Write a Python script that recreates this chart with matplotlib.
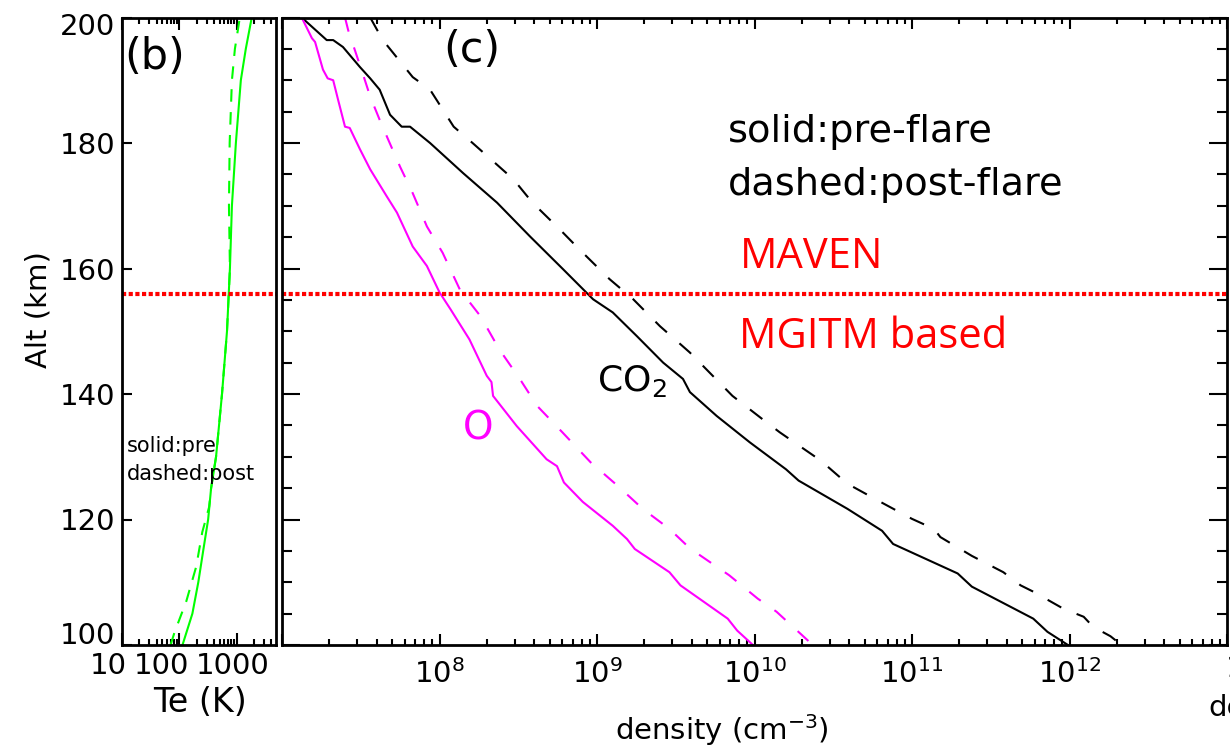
import numpy as np
import matplotlib.pyplot as plt
from matplotlib.ticker import MultipleLocator, LogLocator, NullLocator, NullFormatter
from matplotlib.transforms import ScaledTranslation

# panel (b): electron temperature (K) vs altitude (km)
te_alt_pre = [100, 105, 110, 115, 120, 125, 130, 140, 150, 160, 170, 180, 190, 195, 200]
te_pre = [113, 168, 213, 259, 316, 356, 434, 551, 673, 757, 820, 961, 1172, 1430, 1815]
te_alt_post = [100, 102, 107, 112.5, 118, 122, 125, 130, 140, 150, 160, 170, 180, 190, 195, 197, 200]
te_post = [70, 82, 132, 196, 250, 329, 356, 434, 551, 673, 757, 728, 749, 820, 924, 1000, 1125]

# panel (c): log10 density (cm^-3) vs altitude (km)
co2_alt_pre = [200, 196.4, 196.4, 195.3, 192.1, 190.3, 188.5, 184.5, 182.6, 182.6, 180, 175.2,
               170.5, 165.1, 159.9, 155.1, 153, 149.2, 145, 142.4, 140.3, 136.5, 132.3, 128,
               126.2, 121.7, 118.2, 116.1, 111.4, 109.3, 104.2, 102.1, 100]
co2_pre = [7.125, 7.284, 7.325, 7.387, 7.495, 7.56, 7.62, 7.686, 7.76, 7.813, 7.94, 8.15,
           8.365, 8.575, 8.784, 8.975, 9.10, 9.254, 9.42, 9.546, 9.59, 9.76, 9.97, 10.2,
           10.28, 10.59, 10.81, 10.88, 11.29, 11.38, 11.77, 11.86, 11.99]
co2_alt_post = [200, 196.4, 190.5, 188.5, 182.6, 180, 174.2, 170.5, 166.2, 163, 158.3, 155.1,
                150.8, 146.6, 139.7, 136, 133.9, 129.4, 127, 125.7, 122.8, 120.1, 118.5, 117.2,
                114.2, 111.6, 109.5, 108.5, 105.8, 104.5, 102.9, 101.4, 100]
co2_post = [7.56, 7.64, 7.83, 7.94, 8.09, 8.21, 8.47, 8.59, 8.765, 8.89, 9.08, 9.23,
            9.4, 9.59, 9.86, 10.05, 10.16, 10.42, 10.53, 10.59, 10.80, 11.0, 11.14, 11.18,
            11.38, 11.58, 11.69, 11.77, 11.96, 12.09, 12.15, 12.26, 12.33]
o_alt_pre = [200, 196.7, 196.1, 191.7, 190.3, 190, 186.9, 182.6, 182.4, 179, 175.8, 171.5,
             168.9, 163.5, 160.4, 156.2, 153.5, 148.7, 142.9, 141.9, 139.7, 134.9, 129.6,
             128.5, 125.9, 122.8, 119, 116.9, 115.3, 111.6, 109.5, 104.2, 102.3, 100]
o_pre = [7.125, 7.19, 7.21, 7.26, 7.29, 7.325, 7.356, 7.40, 7.43, 7.495, 7.56, 7.665,
         7.73, 7.83, 7.92, 8.0, 8.07, 8.19, 8.30, 8.33, 8.34, 8.49, 8.68,
         8.746, 8.79, 8.91, 9.10, 9.19, 9.24, 9.46, 9.53, 9.83, 9.89, 9.99]
o_alt_post = [200, 198, 190.5, 187.4, 183.7, 180.5, 176.2, 172, 166.7, 162.5, 156.6, 152.4,
              147.1, 142.4, 138.1, 133.9, 129.1, 125.4, 121.7, 118.5, 115.4, 111.1, 107.4,
              105.3, 100]
o_post = [7.40, 7.42, 7.52, 7.56, 7.62, 7.675, 7.75, 7.83, 7.92, 8.02, 8.13, 8.26,
          8.38, 8.51, 8.62, 8.78, 8.96, 9.13, 9.29, 9.46, 9.59, 9.84, 10.02,
          10.14, 10.37]

maven_alt = 156
alt_ticks = [100, 120, 140, 160, 180, 200]

W, H = 1230, 749
fig = plt.figure(figsize=(W / 100, H / 100), dpi=100)


def box(x0, x1, ytop, ybot):
    return [x0 / W, 1 - ybot / H, (x1 - x0) / W, (ybot - ytop) / H]


def shift(lab, dx, dy):
    lab.set_transform(lab.get_transform() + ScaledTranslation(dx / 72, dy / 72, fig.dpi_scale_trans))


axb = fig.add_axes(box(122, 276, 17.5, 645))
axc = fig.add_axes(box(282, 1227, 17.5, 645))

green = '#00ff00'
mag = '#ff00ff'

# ---- panel (b)
axb.plot(te_pre, te_alt_pre, color=green, lw=1.5)
axb.plot(te_post, te_alt_post, color=green, lw=1.5, dashes=(6, 5))
axb.axhline(maven_alt, color='red', lw=3, dashes=(1, 0.6))
axb.set_xscale('log')
axb.set_xlim(10, 4800)
axb.set_ylim(100, 200)
axb.set_xticks([10, 100, 1000], labels=['10', '100', '1000'])
axb.xaxis.set_minor_locator(LogLocator(base=10, subs=np.arange(2, 10)))
axb.xaxis.set_minor_formatter(NullFormatter())
axb.set_yticks(alt_ticks, labels=[str(a) for a in alt_ticks])
axb.yaxis.set_minor_locator(NullLocator())
axb.tick_params(axis='x', which='major', direction='in', top=True, bottom=True,
                length=8.5, width=1.5, labelsize=21, pad=5)
axb.tick_params(axis='x', which='minor', direction='in', top=True, bottom=True,
                length=4.5, width=1.5)
axb.tick_params(axis='y', which='major', direction='in', left=True, right=False,
                length=7, width=1.5, labelsize=21, pad=5)
for lab, dx in zip(axb.get_xticklabels(), [-10, -13, -3]):
    shift(lab, dx, 0)
ylabs = axb.get_yticklabels()
shift(ylabs[0], 0, 9)
shift(ylabs[-1], 0, -5)

axb.text(0.214, 0.937, '(b)', transform=axb.transAxes, fontsize=31, ha='center', va='center')
axb.text(0.032, 0.308, 'solid:pre', transform=axb.transAxes, fontsize=15, va='baseline')
axb.text(0.032, 0.263, 'dashed:post', transform=axb.transAxes, fontsize=15, va='baseline')

# ---- panel (c)
axc.plot(10 ** np.array(co2_pre), co2_alt_pre, color='black', lw=1.5)
axc.plot(10 ** np.array(co2_post), co2_alt_post, color='black', lw=1.5, dashes=(7.5, 8))
axc.plot(10 ** np.array(o_pre), o_alt_pre, color=mag, lw=1.5)
axc.plot(10 ** np.array(o_post), o_alt_post, color=mag, lw=1.5, dashes=(7, 8))
axc.axhline(maven_alt, color='red', lw=3, dashes=(1, 0.6))
axc.set_xscale('log')
axc.set_xlim(1e7, 1e13)
axc.set_ylim(100, 200)
decades = [1e7, 1e8, 1e9, 1e10, 1e11, 1e12, 1e13]
axc.set_xticks(decades, labels=[''] + [r'$\mathdefault{10^{%d}}$' % k for k in range(8, 13)] + [''])
axc.xaxis.set_minor_locator(LogLocator(base=10, subs=np.arange(2, 10)))
axc.xaxis.set_minor_formatter(NullFormatter())
axc.yaxis.set_major_locator(MultipleLocator(20))
axc.yaxis.set_minor_locator(MultipleLocator(5))
axc.tick_params(axis='x', which='major', direction='in', top=True, bottom=True,
                length=8, width=1.5, labelsize=21, pad=10)
axc.tick_params(axis='x', which='minor', direction='in', top=True, bottom=True,
                length=4.5, width=1.5)
axc.tick_params(axis='y', which='major', direction='in', left=True, right=True,
                length=13, width=1.5, labelleft=False)
axc.tick_params(axis='y', which='minor', direction='in', left=True, right=True,
                length=7, width=1.5)

axc.text(0.201, 0.948, '(c)', transform=axc.transAxes, fontsize=31, ha='center', va='center')
axc.text(0.472, 0.8016, 'solid:pre-flare', transform=axc.transAxes, fontsize=27.5, va='baseline')
axc.text(0.472, 0.717, 'dashed:post-flare', transform=axc.transAxes, fontsize=27.5, va='baseline')
axc.text(0.484, 0.601, 'MAVEN', transform=axc.transAxes, fontsize=30, color='red',
         family='Open Sans', va='baseline')
axc.text(0.484, 0.473, 'MGITM based', transform=axc.transAxes, fontsize=30, color='red',
         family='Open Sans', va='baseline')
axc.text(0.333, 0.405, r'CO$_\mathregular{2}$', transform=axc.transAxes, fontsize=26, va='baseline')
axc.text(0.1915, 0.327, 'O', transform=axc.transAxes, fontsize=28, color=mag, va='baseline')

for ax in (axb, axc):
    for s in ax.spines.values():
        s.set_linewidth(2)

# axis labels
fig.text(38 / W, 1 - 310 / H, 'Alt (km)', rotation=90, fontsize=21, ha='center', va='center')
fig.text(200 / W, 1 - 702 / H, 'Te (K)', fontsize=24, ha='center', va='center')
fig.text(722 / W, 1 - 730 / H, r'density (cm$^{-3}$)', fontsize=21, ha='center', va='center')
# pieces of the neighbouring panel, cut at the right edge
fig.text(1225 / W, 1 - 654 / H, r'$\mathdefault{10^{7}}$', fontsize=21, ha='left', va='top')
fig.text(1208 / W, 1 - 708 / H, 'density', fontsize=21, ha='left', va='center')

fig.savefig('out.png', dpi=100)
